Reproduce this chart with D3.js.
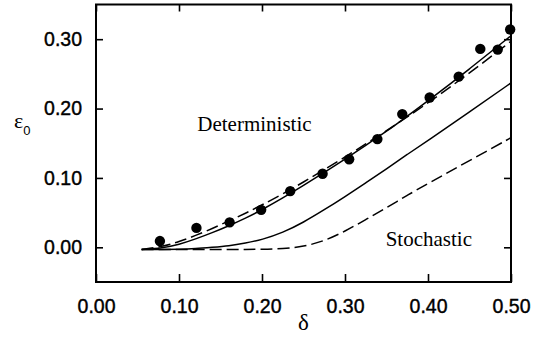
<!DOCTYPE html>
<html>
<head>
<meta charset="utf-8">
<script src="https://cdn.jsdelivr.net/npm/d3@7"></script>
<style>
  body { margin: 0; background: #fff; }
  svg { display: block; }
</style>
</head>
<body>
<div id="chart"></div>
<script>
// measured points
var dotDelta = [0.077, 0.121, 0.161, 0.199, 0.234, 0.273, 0.305, 0.339, 0.369, 0.402, 0.437, 0.463, 0.484, 0.499];
var dotEps   = [0.009, 0.028, 0.036, 0.054, 0.081, 0.106, 0.127, 0.156, 0.192, 0.216, 0.246, 0.286, 0.285, 0.314];

// theory curves
var curveDelta = [0.055, 0.08, 0.10, 0.12, 0.14, 0.16, 0.18, 0.20, 0.225, 0.25, 0.275, 0.30, 0.325, 0.35, 0.375, 0.40, 0.45, 0.50];
var detSolid   = [-0.003, -0.001, 0.004, 0.012, 0.021, 0.031, 0.042, 0.054, 0.071, 0.089, 0.108, 0.127, 0.147, 0.167, 0.189, 0.211, 0.257, 0.305];
var detDashed  = [-0.003, 0.001, 0.008, 0.017, 0.027, 0.038, 0.049, 0.061, 0.077, 0.094, 0.112, 0.130, 0.149, 0.168, 0.188, 0.208, 0.251, 0.297];
var stoSolid   = [-0.003, -0.003, -0.003, -0.002, 0.000, 0.002, 0.006, 0.011, 0.021, 0.036, 0.054, 0.073, 0.093, 0.113, 0.134, 0.154, 0.195, 0.237];
var stoDashed  = [-0.003, -0.003, -0.003, -0.003, -0.003, -0.003, -0.003, -0.003, -0.002, 0.001, 0.009, 0.023, 0.040, 0.057, 0.075, 0.092, 0.125, 0.158];

var xTicks = [0, 0.1, 0.2, 0.3, 0.4, 0.5];
var yTicks = [0, 0.1, 0.2, 0.3];

var W = 542, H = 339;
var margin = {left: 96, right: 31, top: 4.5, bottom: 57};
var w = W - margin.left - margin.right;
var h = H - margin.top - margin.bottom;

var svg = d3.select("#chart").append("svg")
    .attr("width", W)
    .attr("height", H);

var g = svg.append("g")
    .attr("transform", "translate(" + margin.left + "," + margin.top + ")");

var x = d3.scaleLinear().domain([0, 0.5]).range([0, w]);
var y = d3.scaleLinear().domain([-0.05, 0.35]).range([h, 0]);

var fmt = d3.format(".2f");

function styleAxis(sel, showLabels) {
    sel.select(".domain").remove();
    sel.selectAll(".tick line").attr("stroke", "#000").attr("stroke-width", 1.6);
    sel.selectAll(".tick text")
        .style("font-family", "'Liberation Sans', Arial, sans-serif")
        .style("font-size", "19.5px")
        .attr("fill", "#000")
        .attr("stroke", "#000")
        .attr("stroke-width", 0.4);
    if (!showLabels) sel.selectAll(".tick text").remove();
}

g.append("g")
    .attr("transform", "translate(0," + h + ")")
    .call(d3.axisBottom(x).tickValues(xTicks).tickSize(-8).tickPadding(17).tickFormat(fmt))
    .call(styleAxis, true);

g.append("g")
    .call(d3.axisTop(x).tickValues(xTicks).tickSize(-7))
    .call(styleAxis, false);

g.append("g")
    .call(d3.axisLeft(y).tickValues(yTicks).tickSize(-7).tickPadding(14).tickFormat(fmt))
    .call(styleAxis, true);

g.append("g")
    .attr("transform", "translate(" + w + ",0)")
    .call(d3.axisRight(y).tickValues(yTicks).tickSize(-7))
    .call(styleAxis, false);

// frame
g.append("rect")
    .attr("width", w)
    .attr("height", h)
    .attr("fill", "none")
    .attr("stroke", "#000")
    .attr("stroke-width", 2);

var line = d3.line()
    .x(function (d) { return x(d[0]); })
    .y(function (d) { return y(d[1]); })
    .curve(d3.curveBasis);

var curves = [
    {vals: detSolid, dash: null},
    {vals: detDashed, dash: "12,5"},
    {vals: stoSolid, dash: null},
    {vals: stoDashed, dash: "12,5"}
];

curves.forEach(function (c) {
    var pts = curveDelta.map(function (d, i) { return [d, c.vals[i]]; });
    g.append("path")
        .datum(pts)
        .attr("d", line)
        .attr("fill", "none")
        .attr("stroke", "#000")
        .attr("stroke-width", 1.5)
        .attr("stroke-dasharray", c.dash);
});

g.selectAll(".dot")
    .data(dotDelta)
    .enter().append("circle")
    .attr("class", "dot")
    .attr("cx", function (d) { return x(d); })
    .attr("cy", function (d, i) { return y(dotEps[i]); })
    .attr("r", 5.2)
    .attr("fill", "#000");

// labels
g.append("text")
    .attr("x", x(0.122))
    .attr("y", y(0.167))
    .style("font-family", "'Liberation Serif', 'Times New Roman', serif")
    .style("font-size", "21px")
    .text("Deterministic");

g.append("text")
    .attr("x", x(0.349))
    .attr("y", y(0.002))
    .style("font-family", "'Liberation Serif', 'Times New Roman', serif")
    .style("font-size", "21px")
    .text("Stochastic");

svg.append("text")
    .attr("x", margin.left + w / 2)
    .attr("y", 330)
    .attr("text-anchor", "middle")
    .style("font-family", "'Liberation Serif', 'Times New Roman', serif")
    .style("font-size", "23px")
    .text("δ");

var eps = svg.append("text")
    .attr("x", 14)
    .attr("y", 128)
    .style("font-family", "'Liberation Serif', 'Times New Roman', serif")
    .style("font-size", "22px");
eps.append("tspan").text("ε");
eps.append("tspan")
    .attr("dy", 7)
    .style("font-family", "'Liberation Sans', Arial, sans-serif")
    .style("font-size", "13px")
    .text("0");
</script>
</body>
</html>
